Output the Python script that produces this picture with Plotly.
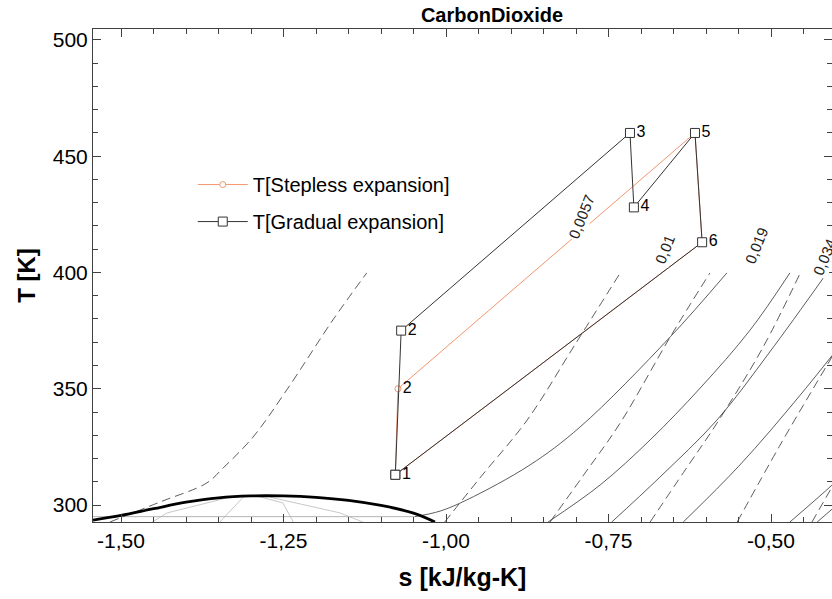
import plotly.graph_objects as go

# saturation dome
dome_s = [-1.543, -1.500, -1.450, -1.400, -1.350, -1.300, -1.250, -1.200, -1.150, -1.100, -1.050, -1.017]
dome_T = [293.5, 295.5, 298.4, 301.2, 303.1, 303.9, 303.9, 303.3, 302.0, 299.8, 296.5, 292.7]

# light grey lines inside the dome
flat_s = [-1.543, -1.048]
flat_T = [295.0, 295.0]
quality_lines = [
    ([-1.452, -1.429, -1.332, -1.302], [292.7, 296.6, 303.4, 303.9]),
    ([-1.348, -1.312, -1.302], [292.7, 303.4, 303.9]),
    ([-1.235, -1.251, -1.291], [292.7, 300.9, 303.9]),
    ([-1.128, -1.163, -1.271], [292.7, 296.6, 303.4]),
]

# isobars (solid)
isobars = [
    ([-1.048, -1.009, -0.968, -0.871, -0.794, -0.655, -0.568], [295.0, 297.4, 302.2, 317.2, 333.5, 372.3, 399.8]),
    ([-0.843, -0.763, -0.686, -0.609, -0.532, -0.471], [292.7, 308.6, 328.0, 350.3, 375.3, 399.8]),
    ([-0.745, -0.671, -0.583, -0.502, -0.414], [292.7, 312.0, 336.6, 365.8, 399.8]),
    ([-0.635, -0.548, -0.455, -0.363], [292.7, 317.2, 347.3, 379.6]),
    ([-0.471, -0.406, -0.332], [292.7, 308.6, 328.0]),
    ([-0.429, -0.363], [292.7, 308.6]),
]

# isochores (dashed)
isochores = [
    ([-1.517, -1.440, -1.368, -1.343, -1.297, -1.245, -1.174, -1.122], [292.7, 301.3, 309.5, 315.9, 329.2, 349.5, 379.6, 399.8]),
    ([-1.002, -0.948, -0.875, -0.802, -0.732], [292.7, 311.6, 336.6, 368.8, 399.8]),
    ([-0.840, -0.786, -0.732, -0.655, -0.594], [292.7, 313.8, 335.3, 372.3, 399.8]),
    ([-0.686, -0.632, -0.583, -0.512, -0.455], [292.7, 315.1, 335.3, 368.0, 399.8]),
    ([-0.552, -0.486, -0.409, -0.363], [292.7, 325.8, 362.4, 383.9]),
    ([-0.437, -0.378], [292.7, 321.5]),
]
v_labels = ["0,0057", "0,01", "0,019", "0,034"]
v_label_s = [-0.791, -0.663, -0.523, -0.417]
v_label_T = [423.9, 409.7, 411.8, 406.7]

# cycles
step_s = [-1.078, -1.074, -0.617, -0.606, -1.078]
step_T = [313, 350, 460, 413, 313]
step_txt = ["", "2", "", "", ""]

grad_s = [-1.078, -1.069, -0.717, -0.711, -0.617, -0.606, -1.078]
grad_T = [313, 375, 460, 428, 460, 413, 313]
grad_txt = ["1", "2", "3", "4", "5", "6", ""]

x_ticks = [-1.50, -1.25, -1.00, -0.75, -0.50]
x_ticktext = ["-1,50", "-1,25", "-1,00", "-0,75", "-0,50"]
y_ticks = [300, 350, 400, 450, 500]

FONT = "Liberation Sans, Arial, sans-serif"
fig = go.Figure()

for s, T in quality_lines:
    fig.add_trace(go.Scatter(x=s, y=T, mode="lines", line=dict(color="#c8c8c8", width=1),
                             showlegend=False, hoverinfo="skip"))
fig.add_trace(go.Scatter(x=flat_s, y=flat_T, mode="lines", line=dict(color="#b4b4b4", width=1),
                         showlegend=False, hoverinfo="skip"))
for s, T in isobars:
    fig.add_trace(go.Scatter(x=s, y=T, mode="lines", line=dict(color="#333333", width=0.8, shape="spline"),
                             showlegend=False, hoverinfo="skip"))
for s, T in isochores:
    fig.add_trace(go.Scatter(x=s, y=T, mode="lines",
                             line=dict(color="#333333", width=0.8, dash="9px,5px", shape="spline"),
                             showlegend=False, hoverinfo="skip"))
fig.add_trace(go.Scatter(x=dome_s, y=dome_T, mode="lines", line=dict(color="black", width=2.8, shape="spline"),
                         showlegend=False, hoverinfo="skip"))

fig.add_trace(go.Scatter(
    x=step_s, y=step_T, mode="lines+markers+text", name="T[Stepless expansion]", legendgroup="a",
    line=dict(color="#f2956c", width=1),
    marker=dict(symbol="circle", size=6, color="white", line=dict(color="#f2956c", width=1)),
    text=step_txt, textposition="middle right", textfont=dict(size=16, color="black", family=FONT),
))
fig.add_trace(go.Scatter(
    x=grad_s, y=grad_T, mode="lines+markers+text", name="T[Gradual expansion]", legendgroup="b",
    line=dict(color="#333333", width=1),
    marker=dict(symbol="square", size=9, color="white", line=dict(color="#333333", width=1)),
    text=grad_txt, textposition="middle right", textfont=dict(size=16, color="black", family=FONT),
))

for lab, s, T in zip(v_labels, v_label_s, v_label_T):
    fig.add_annotation(x=s, y=T, text=lab, showarrow=False, textangle=-68,
                       font=dict(size=15, color="#222222", family=FONT), bgcolor="white")

axis_common = dict(showline=True, linecolor="#404040", linewidth=1, ticks="inside", ticklen=8,
                   tickcolor="#404040", mirror="ticks", showgrid=False, zeroline=False,
                   tickfont=dict(size=21, color="black", family=FONT))

fig.update_layout(
    width=832, height=599,
    margin=dict(l=93, r=0, t=29, b=77),
    paper_bgcolor="white", plot_bgcolor="white",
    title=dict(text="<b>CarbonDioxide</b>", x=492 / 832, xanchor="center", y=1 - 15 / 599, yanchor="middle",
               font=dict(size=20, color="black", family=FONT)),
    xaxis=dict(range=[-1.5431, -0.4062], tickvals=x_ticks, ticktext=x_ticktext,
               minor=dict(dtick=0.05, ticks="inside", ticklen=5, tickcolor="#404040"),
               title=dict(text="<b>s [kJ/kg-K]</b>", font=dict(size=25, color="black", family=FONT), standoff=17),
               **axis_common),
    yaxis=dict(range=[292.7, 504.7], tickvals=y_ticks,
               minor=dict(dtick=10, ticks="inside", ticklen=5, tickcolor="#404040"),
               title=dict(text="<b>T [K]</b>", font=dict(size=24, color="black", family=FONT), standoff=10),
               **axis_common),
    legend=dict(x=0.135, y=0.724, xanchor="left", yanchor="top", bgcolor="rgba(0,0,0,0)",
                font=dict(size=20, color="black", family=FONT), tracegroupgap=8, itemwidth=50),
    showlegend=True,
)

# drop the default 8px page margin so the figure sits at the top-left corner
fig.write_html("out.html", config={"displayModeBar": False},
               post_script="document.body.style.margin='0';")
